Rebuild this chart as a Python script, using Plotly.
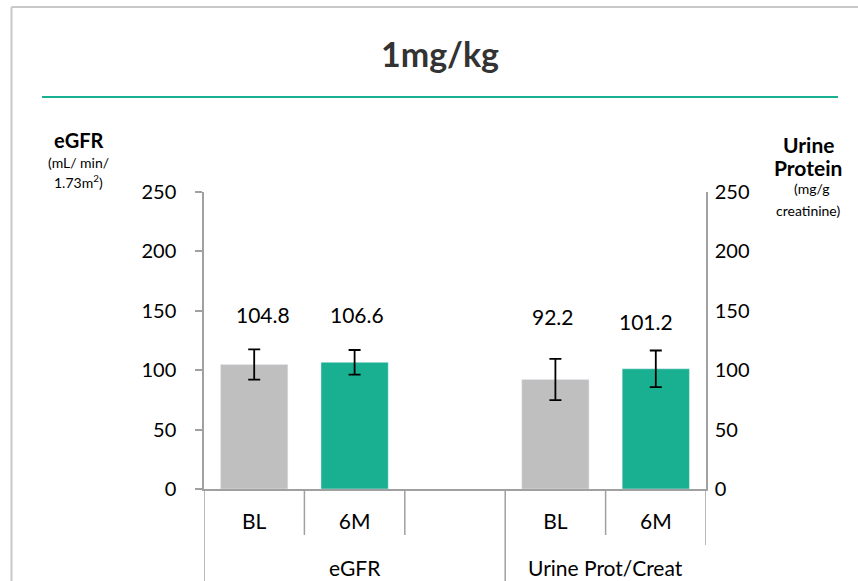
import plotly.graph_objects as go

# ---- data ----
slot_labels = ["BL", "6M", "", "BL", "6M"]
group_labels = ["eGFR", "Urine Prot/Creat"]
group_slots = [[0, 1, 2], [3, 4]]
egfr_slots = [0, 1]
urine_slots = [3, 4]
egfr_values = [104.8, 106.6]
egfr_errors = [12.8, 10.4]
urine_values = [92.2, 101.2]
urine_errors = [17.4, 15.4]
colors = ["#BFBFBF", "#19AF91"]
y_ticks = [0, 50, 100, 150, 200, 250]

W, H = 858, 581
L, R, T, B = 204, 706, 192, 489  # plot area in px

def px(xp):
    return (xp - L) / (R - L)

def py(yp):
    return (B - yp) / (B - T)

FONT = "Lato, 'Open Sans', Arial, sans-serif"
AXC = "#A0A0A0"

fig = go.Figure()
fig.add_trace(go.Bar(
    x=egfr_slots, y=egfr_values, marker_color=colors, width=0.67,
    error_y=dict(type="data", array=egfr_errors, color="black", thickness=1.8, width=6),
    yaxis="y", showlegend=False, hoverinfo="y"))
fig.add_trace(go.Bar(
    x=urine_slots, y=urine_values, marker_color=colors, width=0.67,
    error_y=dict(type="data", array=urine_errors, color="black", thickness=1.8, width=6),
    yaxis="y2", showlegend=False, hoverinfo="y"))

# data labels (text boxes in the original, fixed heights)
label_specs = [
    (egfr_slots[0], egfr_values[0], 147, 9),
    (egfr_slots[1], egfr_values[1], 147, 2),
    (urine_slots[0], urine_values[0], 145, -2),
    (urine_slots[1], urine_values[1], 141, -10),
]
annotations = []
for xs, v, ypos, xsh in label_specs:
    annotations.append(dict(x=xs, y=ypos, xref="x", yref="y", text=f"{v:.1f}",
                            showarrow=False, xshift=xsh, yanchor="middle",
                            font=dict(family=FONT, size=21, color="#000")))

# group labels
for g, slots in zip(group_labels, group_slots):
    annotations.append(dict(x=sum(slots) / len(slots), y=py(567), xref="x", yref="paper",
                            text=g, showarrow=False, xanchor="center", yanchor="middle",
                            font=dict(family=FONT, size=21, color="#000")))

# axis titles
def txt(x, y, t, size, bold=False):
    annotations.append(dict(x=px(x), y=py(y), xref="paper", yref="paper",
                            text=(f"<b>{t}</b>" if bold else t), showarrow=False,
                            xanchor="center", yanchor="middle",
                            font=dict(family=FONT, size=size, color="#000")))

txt(78, 140, "eGFR", 20, True)
txt(78, 163, "(mL/ min/", 14)
txt(78, 182, "1.73m<sup>2</sup>)", 14)
txt(808, 144, "Urine", 21, True)
txt(808, 167, "Protein", 21, True)
txt(811, 189, "(mg/g", 14)
txt(808, 210, "creatinine)", 14)

shapes = []
# frame border
shapes.append(dict(type="line", xref="paper", yref="paper", x0=px(11.5), x1=px(11.5),
                   y0=py(7), y1=py(600), line=dict(color="#C8C8C8", width=2)))
shapes.append(dict(type="line", xref="paper", yref="paper", x0=px(11.5), x1=px(900),
                   y0=py(7), y1=py(7), line=dict(color="#C8C8C8", width=2)))
# title underline
shapes.append(dict(type="line", xref="paper", yref="paper", x0=px(42), x1=px(838),
                   y0=py(97), y1=py(97), line=dict(color="#19AF91", width=2)))
# category dividers
n = len(slot_labels)
group_edges = {-0.5, 2.5}
for i in range(n + 1):
    xb = i - 0.5
    if xb == n - 0.5:
        y1 = py(545)
    elif xb in group_edges:
        y1 = py(600)
    else:
        y1 = py(535)
    shapes.append(dict(type="line", xref="x", yref="paper", x0=xb, x1=xb,
                       y0=0, y1=y1, line=dict(color=AXC, width=1.5)))

shown = [i for i, s in enumerate(slot_labels) if s]

fig.update_layout(
    width=W, height=H,
    margin=dict(l=L, r=W - R, t=T, b=H - B, pad=0),
    paper_bgcolor="white", plot_bgcolor="white",
    title=dict(text="<b>1mg/kg</b>", x=440 / W, xanchor="center", y=1 - 55 / H, yanchor="middle",
               font=dict(family=FONT, size=34, color="#333")),
    xaxis=dict(range=[-0.5, n - 0.5], tickmode="array", tickvals=shown,
               ticktext=[slot_labels[i] for i in shown],
               showline=True, linecolor=AXC, linewidth=1.5, ticks="", showgrid=False, zeroline=False,
               ticklabelstandoff=13, tickfont=dict(family=FONT, size=21, color="#000")),
    yaxis=dict(range=[0, 250], tickvals=y_ticks, showline=True, linecolor=AXC,
               linewidth=1.5, ticks="outside", ticklen=7, tickcolor=AXC, tickwidth=1.5, showgrid=False,
               zeroline=False, ticklabelstandoff=15, tickfont=dict(family=FONT, size=20, color="#000")),
    yaxis2=dict(range=[0, 250], tickvals=y_ticks, overlaying="y", side="right",
                showline=True, linecolor=AXC, linewidth=1.5, ticks="", showgrid=False, zeroline=False,
                ticklabelstandoff=3, tickfont=dict(family=FONT, size=20, color="#000")),
    annotations=annotations, shapes=shapes, bargap=0.33,
)

fig.write_html("out.html", config={"displayModeBar": False},
               post_script="document.body.style.margin='0';")
